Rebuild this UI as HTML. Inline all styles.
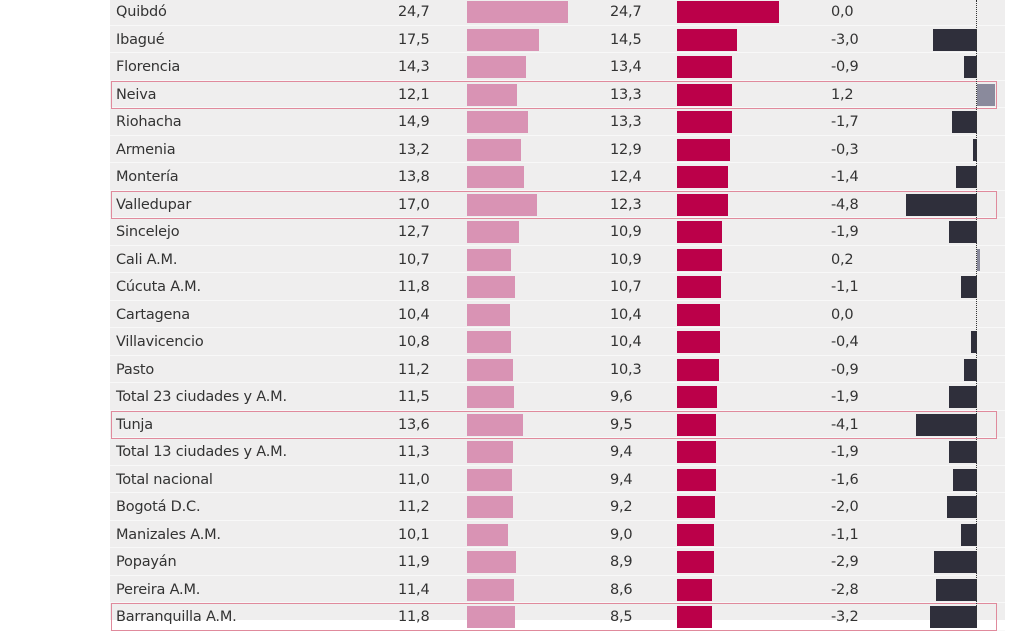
<!DOCTYPE html>
<html><head><meta charset="utf-8"><style>
body{margin:0;width:1035px;height:620px;overflow:hidden;background:#fff;font-family:"DejaVu Sans","Liberation Sans",sans-serif;}
#p{position:absolute;left:110px;top:0;width:895px;height:620px;background:#efeeee;}
.r{position:absolute;left:110px;width:895px;height:27.5px;border-bottom:1px solid #f8f8f8;box-sizing:border-box;}
.t{position:absolute;font-size:14.5px;color:#333;line-height:20px;letter-spacing:-0.2px;}
.b{position:absolute;height:22px;}
.hl{position:absolute;left:111px;width:886px;height:28px;border:1.5px solid #e08a9c;box-sizing:border-box;}
</style></head><body><div id="p"></div>
<div id="c"></div>
<div style="position:absolute;left:976px;top:0;height:620px;border-left:1.5px dotted #333;"></div>
<script>
var d=[["Quibdó",24.7,24.7,0.0],["Ibagué",17.5,14.5,-3.0],["Florencia",14.3,13.4,-0.9],["Neiva",12.1,13.3,1.2],["Riohacha",14.9,13.3,-1.7],["Armenia",13.2,12.9,-0.3],["Montería",13.8,12.4,-1.4],["Valledupar",17.0,12.3,-4.8],["Sincelejo",12.7,10.9,-1.9],["Cali A.M.",10.7,10.9,0.2],["Cúcuta A.M.",11.8,10.7,-1.1],["Cartagena",10.4,10.4,0.0],["Villavicencio",10.8,10.4,-0.4],["Pasto",11.2,10.3,-0.9],["Total 23 ciudades y A.M.",11.5,9.6,-1.9],["Tunja",13.6,9.5,-4.1],["Total 13 ciudades y A.M.",11.3,9.4,-1.9],["Total nacional",11.0,9.4,-1.6],["Bogotá D.C.",11.2,9.2,-2.0],["Manizales A.M.",10.1,9.0,-1.1],["Popayán",11.9,8.9,-2.9],["Pereira A.M.",11.4,8.6,-2.8],["Barranquilla A.M.",11.8,8.5,-3.2]];
var hl=[3,7,15,22],h="";
function f(v){return v.toFixed(1).replace(".",",");}
d.forEach(function(r,i){var c=12+27.5*i,top=c-11;
h+='<div class="r" style="top:'+(c-13.75)+'px"></div>';
h+='<div class="t" style="left:116px;top:'+(c-10)+'px">'+r[0]+'</div>';
h+='<div class="t" style="left:398px;top:'+(c-10)+'px">'+f(r[1])+'</div>';
h+='<div class="t" style="left:610px;top:'+(c-10)+'px">'+f(r[2])+'</div>';
h+='<div class="t" style="left:831px;top:'+(c-10)+'px">'+f(r[3])+'</div>';
h+='<div class="b" style="left:467px;top:'+top+'px;width:'+(r[1]*4.1)+'px;background:#d993b4"></div>';
h+='<div class="b" style="left:677px;top:'+top+'px;width:'+(r[2]*4.12)+'px;background:#bb0049"></div>';
var w=Math.abs(r[3])*14.8;
if(r[3]<0)h+='<div class="b" style="left:'+(977-w)+'px;top:'+top+'px;width:'+w+'px;background:#2f2f3b"></div>';
else if(r[3]>0)h+='<div class="b" style="left:977px;top:'+top+'px;width:'+w+'px;background:#8a8a9c"></div>';
if(hl.indexOf(i)>=0)h+='<div class="hl" style="top:'+(c-14)+'px"></div>';
});
document.getElementById("c").innerHTML=h;
</script></body></html>
